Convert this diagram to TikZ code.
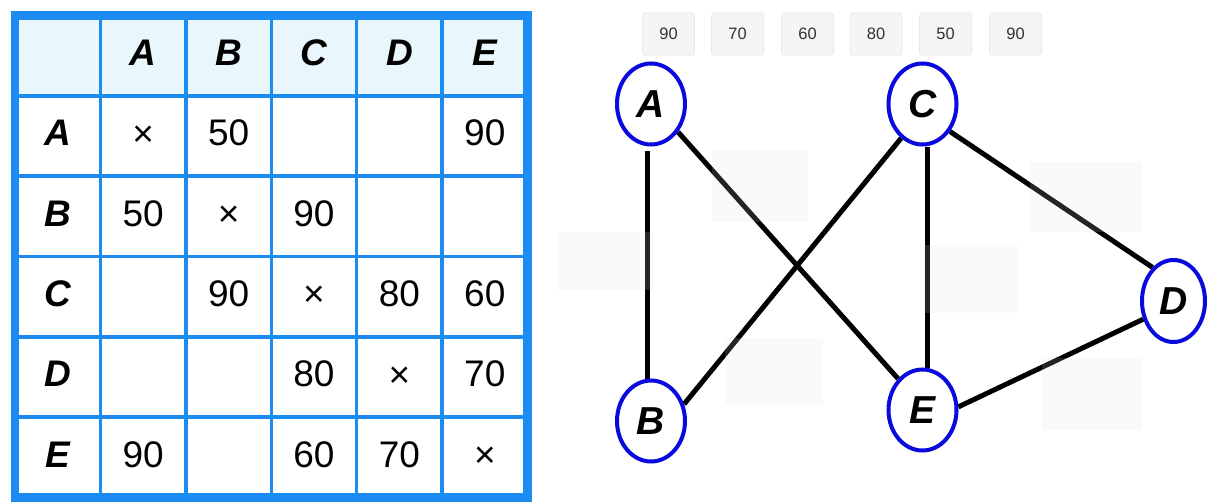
\documentclass[tikz,border=0pt]{standalone}
\usepackage{fontspec}
\setmainfont{Liberation Sans}
\usetikzlibrary{shapes.geometric,backgrounds}
\definecolor{tblue}{HTML}{1C8BF2}
\definecolor{hdr}{HTML}{E9F7FC}
\definecolor{nblue}{HTML}{0A0ADC}
\definecolor{chipfill}{HTML}{F5F5F5}
\definecolor{chipline}{HTML}{E8E8E8}
\definecolor{chiptext}{HTML}{333333}
\definecolor{ghost}{HTML}{E4E4E4}
\begin{document}
\begin{tikzpicture}[x=1pt,y=-1pt,
 cell/.style={font=\fontsize{37}{37}\selectfont, inner sep=0pt},
 hd/.style={font=\fontsize{37}{37}\selectfont\bfseries\itshape, inner sep=0pt},
 vert/.style={ellipse, draw=nblue, line width=4pt, fill=white, minimum width=68pt, minimum height=81pt, inner sep=0pt, font=\fontsize{39}{39}\selectfont\bfseries\itshape},
 edge/.style={line width=5pt, black},
 chip/.style={rectangle, rounded corners=3pt, fill=chipfill, draw=chipline, line width=0.8pt, minimum width=52pt, minimum height=42pt, text=chiptext, font=\fontsize{16.5}{16.5}\selectfont},
 ghostbox/.style={fill=ghost, fill opacity=0.16, draw=none}
]
\useasboundingbox (0,0) rectangle (1208,503);
% ---------- table ----------
\fill[hdr] (15,15.5) rectangle (527.5,95.8);
\foreach \x in {100.4,185.8,271.3,356.7,442.1}
  \draw[tblue, line width=3.5pt] (\x,15.5) -- (\x,497.5);
\foreach \y in {95.8,176.2,256.5,336.8,417.2}
  \draw[tblue, line width=3.5pt] (15,\y) -- (527.5,\y);
\draw[tblue, line width=8.5pt] (15,15.5) rectangle (527.5,497.5);
% headers
\node[hd] (hA) at (143.1,52.6) {A};
\node[hd] (hB) at (228.6,52.6) {B};
\node[hd] (hC) at (314.0,52.6) {C};
\node[hd] (hD) at (399.4,52.6) {D};
\node[hd] (hE) at (484.8,52.6) {E};
\node[hd] (rA) at (57.7,133.0) {A};
\node[hd] (rB) at (57.7,213.4) {B};
\node[hd] (rC) at (57.7,293.7) {C};
\node[hd] (rD) at (57.7,374.0) {D};
\node[hd] (rE) at (57.7,454.4) {E};
% row A
\node[cell] (AA) at (143.1,136.0) {×};
\node[cell] (AB) at (228.6,133.0) {50};
\node[cell] (AE) at (484.8,133.0) {90};
% row B
\node[cell] (BA) at (143.1,213.4) {50};
\node[cell] (BB) at (228.6,216.4) {×};
\node[cell] (BC) at (314.0,213.4) {90};
% row C
\node[cell] (CB) at (228.6,293.7) {90};
\node[cell] (CC) at (314.0,296.7) {×};
\node[cell] (CD) at (399.4,293.7) {80};
\node[cell] (CE) at (484.8,293.7) {60};
% row D
\node[cell] (DC) at (314.0,374.0) {80};
\node[cell] (DD) at (399.4,377.0) {×};
\node[cell] (DE) at (484.8,374.0) {70};
% row E
\node[cell] (EA) at (143.1,454.4) {90};
\node[cell] (EC) at (314.0,454.4) {60};
\node[cell] (ED) at (399.4,454.4) {70};
\node[cell] (EE) at (484.8,457.4) {×};
% ---------- chips ----------
\node[chip] (k1) at (668.5,34) {90};
\node[chip] (k2) at (737.5,34) {70};
\node[chip] (k3) at (807.5,34) {60};
\node[chip] (k4) at (876,34) {80};
\node[chip] (k5) at (945.5,34) {50};
\node[chip] (k6) at (1015.5,34) {90};
% ---------- graph ----------
\node[vert] (A) at (651,104) {A};
\node[vert] (C) at (922.5,104) {C};
\node[vert] (B) at (651,421) {B};
\node[vert] (E) at (922.5,410) {E};
\node[vert, minimum width=63pt, minimum height=82pt] (D) at (1173.5,301) {D};
\begin{scope}[on background layer]
\fill[white] (0,0) rectangle (1208,503);
\draw[edge, shorten <=4pt] ([xshift=-4pt]A.south) -- ([xshift=-4pt]B.north);
\draw[edge] (A.-46) -- (E.128);
\draw[edge] (B.27) -- (C.238);
\draw[edge] ([xshift=5pt]C.south) -- ([xshift=5pt]E.north);
\draw[edge] (C.-45) -- (D.122);
\draw[edge] (E.5) -- (D.211);
\fill[ghostbox] (712,150) rectangle (808,222);
\fill[ghostbox] (557,232) rectangle (653,290);
\fill[ghostbox] (923,245) rectangle (1018,313);
\fill[ghostbox] (725,338) rectangle (823,405);
\fill[ghostbox] (1030,162) rectangle (1142,232);
\fill[ghostbox] (1042,358) rectangle (1142,430);
\end{scope}
\end{tikzpicture}
\end{document}
